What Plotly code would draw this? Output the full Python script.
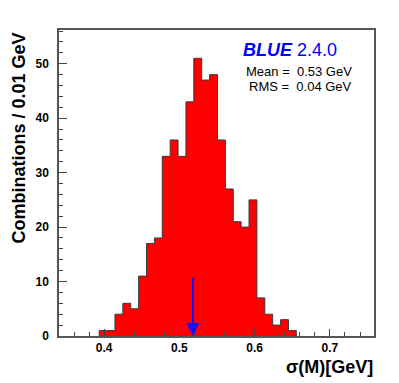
import plotly.graph_objects as go

# histogram of sigma(M) over combinations
bin_lo = 0.3934
bin_w = 0.01048
counts = [1, 1, 4, 6, 5, 11, 17, 18, 33, 36, 33, 43, 51, 47, 48,
          36, 27, 21, 20, 25, 7, 4, 2, 3, 1]

arrow_x = 0.518
arrow_top = 11

blue_label = 'BLUE'
blue_version = '2.4.0'
mean_text = 'Mean =\u00a0 0.53 GeV'
rms_text = 'RMS =\u00a0 0.04 GeV'

edges = [bin_lo + i * bin_w for i in range(len(counts) + 1)]
xs = [edges[0]] + edges[:-1] + [edges[-1]]
ys = [0] + counts + [0]

FONT = 'Liberation Sans, Arial, Helvetica, sans-serif'

fig = go.Figure()
fig.add_trace(go.Scatter(x=xs, y=ys, mode='lines',
                         line=dict(shape='hv', color='#3a3a3a', width=1),
                         fill='tozeroy', fillcolor='#ff0000',
                         hoverinfo='skip'))

axis_common = dict(showline=True, mirror=True, linecolor='#555', linewidth=1.5,
                   showgrid=False, zeroline=False, ticks='inside',
                   tickcolor='#444', tickwidth=1,
                   tickfont=dict(family=FONT, size=12, color='black', weight='bold'))

fig.update_xaxes(range=[0.34, 0.7586], tickvals=[0.4, 0.5, 0.6, 0.7],
                 ticktext=['0.4', '0.5', '0.6', '0.7'], ticklen=7,
                 minor=dict(dtick=0.02, tick0=0.4, ticks='inside', ticklen=4,
                            tickcolor='#444'),
                 **axis_common)
fig.update_yaxes(range=[0, 56.2], dtick=10, tick0=0, ticklen=8,
                 ticklabelstandoff=6,
                 minor=dict(dtick=2, ticks='inside', ticklen=4, tickcolor='#444'),
                 **axis_common)

fig.add_annotation(x=arrow_x, y=0, ax=arrow_x, ay=arrow_top,
                   xref='x', yref='y', axref='x', ayref='y', text='',
                   showarrow=True, arrowhead=2, arrowwidth=2, arrowsize=1.3,
                   arrowcolor='#1010ff')

fig.add_annotation(x=0.577, y=0.935, xref='paper', yref='paper',
                   xanchor='left', yanchor='middle', showarrow=False,
                   text='<b><i>%s</i></b> %s' % (blue_label, blue_version),
                   font=dict(family=FONT, size=18, color='#0000ff'))
fig.add_annotation(x=0.932, y=0.8645, xref='paper', yref='paper',
                   xanchor='right', yanchor='middle', showarrow=False,
                   borderpad=0,
                   text=mean_text, font=dict(family=FONT, size=13, color='black'))
fig.add_annotation(x=0.932, y=0.8153, xref='paper', yref='paper',
                   xanchor='right', yanchor='middle', showarrow=False,
                   borderpad=0,
                   text=rms_text, font=dict(family=FONT, size=13, color='black'))

fig.add_annotation(x=-0.127, y=1.0, xref='paper', yref='paper',
                   xanchor='center', yanchor='top', showarrow=False,
                   textangle=-90, text='<b>Combinations / 0.01 GeV</b>',
                   font=dict(family=FONT, size=18, color='black'))
fig.add_annotation(x=1.003, y=-0.101, xref='paper', yref='paper',
                   xanchor='right', yanchor='middle', showarrow=False,
                   text='<b>\u03c3(M)[GeV]</b>',
                   font=dict(family=FONT, size=18, color='black'))

fig.update_layout(width=399, height=383, showlegend=False,
                  margin=dict(l=59, r=24.5, t=30, b=47),
                  paper_bgcolor='white', plot_bgcolor='white')

fig.write_html('out.html', config={'displayModeBar': False},
               post_script="document.body.style.margin='0px';")
